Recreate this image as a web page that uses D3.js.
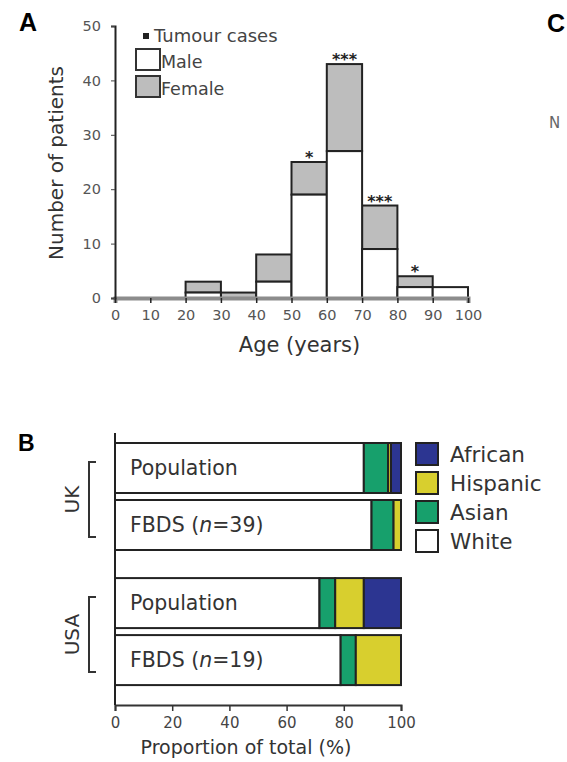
<!DOCTYPE html>
<html>
<head>
<meta charset="utf-8">
<script src="https://cdn.jsdelivr.net/npm/d3@7"></script>
<style>
  body { margin: 0; background: #fff; }
  svg { font-family: "DejaVu Sans", sans-serif; }
  svg .tick text { font-family: "DejaVu Sans", sans-serif; }
</style>
</head>
<body>
<div id="chart"></div>
<script>
  const width = 567, height = 762;

  // Panel A: age histogram (10-year bins)
  const ageBinStarts = [0, 10, 20, 30, 40, 50, 60, 70, 80, 90];
  const maleCounts   = [0, 0, 1, 0, 3, 19, 27, 9, 2, 2];
  const femaleCounts = [0, 0, 2, 1, 5, 6, 16, 8, 2, 0];
  const starLabels   = ["", "", "", "", "", "*", "***", "***", "*", ""];
  const ageTicks = [0, 10, 20, 30, 40, 50, 60, 70, 80, 90, 100];
  const countTicks = [0, 10, 20, 30, 40, 50];

  // Panel B: ethnicity proportions (%)
  const rowGroups = ["UK", "UK", "USA", "USA"];
  const rowNames = ["Population", "FBDS", "Population", "FBDS"];
  const rowN = [null, 39, null, 19];
  const rowSlots = [0, 1, 2.37, 3.37];
  const whitePct    = [87, 89.7, 71.5, 78.9];
  const asianPct    = [8.5, 7.7, 5.5, 5.3];
  const hispanicPct = [1, 2.6, 10, 15.8];
  const africanPct  = [3.5, 0, 13, 0];
  const ethnicities = ["White", "Asian", "Hispanic", "African"];
  const ethColors = ["#ffffff", "#17a06c", "#d8cf2e", "#2c3591"];
  const pctTicks = [0, 20, 40, 60, 80, 100];

  const svg = d3.select('#chart').append('svg')
    .attr('width', width).attr('height', height);

  // ---------- Panel A ----------
  const xA = d3.scaleLinear().domain([0, 100]).range([115, 468]);
  const yA = d3.scaleLinear().domain([0, 50]).range([298, 26]);

  svg.append('text').attr('x', 19).attr('y', 31)
    .attr('font-family', '"Liberation Sans", Arial, sans-serif')
    .attr('font-size', 25).attr('font-weight', 'bold').text('A');

  const gA = svg.append('g');

  const binData = ageBinStarts.map((s, i) => ({
    start: s, male: maleCounts[i], female: femaleCounts[i], star: starLabels[i]
  }));

  // female part (stacked on top of male)
  gA.selectAll('rect.female').data(binData.filter(d => d.female > 0)).join('rect')
    .attr('x', d => xA(d.start)).attr('width', d => xA(d.start + 10) - xA(d.start))
    .attr('y', d => yA(d.male + d.female))
    .attr('height', d => yA(d.male) - yA(d.male + d.female))
    .attr('fill', '#bdbdbd').attr('stroke', '#222').attr('stroke-width', 2);

  gA.selectAll('rect.male').data(binData.filter(d => d.male > 0)).join('rect')
    .attr('x', d => xA(d.start)).attr('width', d => xA(d.start + 10) - xA(d.start))
    .attr('y', d => yA(d.male))
    .attr('height', d => yA(0) - yA(d.male))
    .attr('fill', '#fff').attr('stroke', '#222').attr('stroke-width', 2);

  gA.selectAll('text.star').data(binData.filter(d => d.star)).join('text')
    .attr('x', d => xA(d.start + 5)).attr('y', d => yA(d.male + d.female) + 1)
    .attr('text-anchor', 'middle').attr('font-size', 16).attr('font-weight', 'bold')
    .attr('fill', '#222').text(d => d.star);

  // axes
  const axA = svg.append('g').attr('transform', `translate(0,${yA(0)})`)
    .call(d3.axisBottom(xA).tickValues(ageTicks).tickSize(5).tickPadding(7));
  axA.select('.domain').attr('stroke', '#8c8c8c').attr('stroke-width', 4);
  axA.selectAll('.tick line').attr('stroke', '#222').attr('stroke-width', 1.5);
  axA.selectAll('.tick text').attr('font-size', 14.5).attr('fill', '#555');

  const ayA = svg.append('g').attr('transform', `translate(${xA(0)},0)`)
    .call(d3.axisLeft(yA).tickValues(countTicks).tickSize(4).tickPadding(10));
  ayA.select('.domain').attr('stroke', '#222').attr('stroke-width', 2);
  ayA.selectAll('.tick line').attr('stroke', '#444');
  ayA.selectAll('.tick text').attr('font-size', 14.5).attr('fill', '#555');

  svg.append('text').attr('transform', `translate(63,${(yA(0) + yA(50)) / 2 + 1}) rotate(-90)`)
    .attr('text-anchor', 'middle').attr('font-size', 20).attr('fill', '#333')
    .text('Number of patients');
  svg.append('text').attr('x', xA(50) + 8).attr('y', 352)
    .attr('text-anchor', 'middle').attr('font-size', 21).attr('fill', '#333')
    .text('Age (years)');

  // legend A
  const legA = svg.append('g');
  legA.append('rect').attr('x', 143).attr('y', 33).attr('width', 6).attr('height', 6).attr('fill', '#222');
  legA.append('text').attr('x', 154).attr('y', 42).attr('font-size', 18).attr('fill', '#444').text('Tumour cases');
  legA.append('rect').attr('x', 136).attr('y', 49).attr('width', 24).attr('height', 21)
    .attr('fill', '#fff').attr('stroke', '#333').attr('stroke-width', 2);
  legA.append('text').attr('x', 161).attr('y', 68).attr('font-size', 17.5).attr('fill', '#444').text('Male');
  legA.append('rect').attr('x', 136).attr('y', 76).attr('width', 24).attr('height', 21)
    .attr('fill', '#bdbdbd').attr('stroke', '#333').attr('stroke-width', 2);
  legA.append('text').attr('x', 161).attr('y', 95).attr('font-size', 17.5).attr('fill', '#444').text('Female');

  // Panel C stub (cut off at the right edge)
  svg.append('text').attr('x', 547).attr('y', 32)
    .attr('font-family', '"Liberation Sans", Arial, sans-serif')
    .attr('font-size', 25).attr('font-weight', 'bold').text('C');
  svg.append('text').attr('x', 549).attr('y', 128)
    .attr('font-size', 15).attr('fill', '#666').text('N');

  // ---------- Panel B ----------
  const xB = d3.scaleLinear().domain([0, 100]).range([115, 401]);
  const yB = d3.scaleLinear().domain([0, 1]).range([468, 525]);
  const barH = 50;

  svg.append('text').attr('x', 18).attr('y', 451)
    .attr('font-family', '"Liberation Sans", Arial, sans-serif')
    .attr('font-size', 23).attr('font-weight', 'bold').text('B');

  const rows = rowNames.map((n, i) => ({
    i, group: rowGroups[i], name: n, n: rowN[i], slot: rowSlots[i],
    White: whitePct[i], Asian: asianPct[i], Hispanic: hispanicPct[i], African: africanPct[i]
  }));

  const stacked = d3.stack().keys(ethnicities)(rows);

  const gB = svg.append('g');
  stacked.forEach((layer, k) => {
    gB.selectAll(null).data(layer.filter(d => d[1] - d[0] > 0)).join('rect')
      .attr('x', d => xB(d[0])).attr('width', d => xB(d[1]) - xB(d[0]))
      .attr('y', d => yB(d.data.slot) - barH / 2).attr('height', barH)
      .attr('fill', ethColors[k]).attr('stroke', '#222').attr('stroke-width', 2);
  });

  // row labels inside bars
  const lbl = gB.selectAll('text.row').data(rows).join('text')
    .attr('x', xB(0) + 15).attr('y', d => yB(d.slot) + 7)
    .attr('font-size', 20.5).attr('fill', '#333');
  lbl.each(function (d) {
    const t = d3.select(this);
    if (d.n == null) { t.text(d.name); return; }
    t.append('tspan').text(d.name + ' (');
    t.append('tspan').attr('font-style', 'italic').text('n');
    t.append('tspan').text('=' + d.n + ')');
  });

  // group brackets
  const groupNames = Array.from(new Set(rowGroups));
  groupNames.forEach(g => {
    const gr = rows.filter(r => r.group === g);
    const top = yB(gr[0].slot) - 6, bot = yB(gr[gr.length - 1].slot) + 12;
    const bx = 89;
    svg.append('path')
      .attr('d', `M${bx + 7},${top} H${bx} V${bot} H${bx + 7}`)
      .attr('fill', 'none').attr('stroke', '#333').attr('stroke-width', 2);
    svg.append('text')
      .attr('transform', `translate(79,${(top + bot) / 2}) rotate(-90)`)
      .attr('text-anchor', 'middle').attr('font-size', 20).attr('fill', '#333').text(g);
  });

  // axes B
  const axB = svg.append('g').attr('transform', 'translate(0,705)')
    .call(d3.axisBottom(xB).tickValues(pctTicks).tickSize(6).tickPadding(6));
  axB.select('.domain').attr('stroke', '#333').attr('stroke-width', 2);
  axB.selectAll('.tick line').attr('stroke', '#333').attr('stroke-width', 1.5);
  axB.selectAll('.tick text').attr('font-size', 15).attr('fill', '#444');
  svg.append('line').attr('x1', xB(0)).attr('x2', xB(0)).attr('y1', 433).attr('y2', 705)
    .attr('stroke', '#222').attr('stroke-width', 2);

  svg.append('text').attr('x', xB(50) - 12).attr('y', 754)
    .attr('text-anchor', 'middle').attr('font-size', 19).attr('fill', '#333')
    .text('Proportion of total (%)');

  // legend B (top to bottom: African, Hispanic, Asian, White)
  const legOrder = ethnicities.slice().reverse();
  const legB = svg.append('g').selectAll('g').data(legOrder).join('g')
    .attr('transform', (d, i) => `translate(416,${443 + i * 29})`);
  legB.append('rect').attr('width', 22).attr('height', 22)
    .attr('fill', d => ethColors[ethnicities.indexOf(d)])
    .attr('stroke', '#222').attr('stroke-width', 2);
  legB.append('text').attr('x', 34).attr('y', 19).attr('font-size', 21.5).attr('fill', '#333')
    .text(d => d);
</script>
</body>
</html>
